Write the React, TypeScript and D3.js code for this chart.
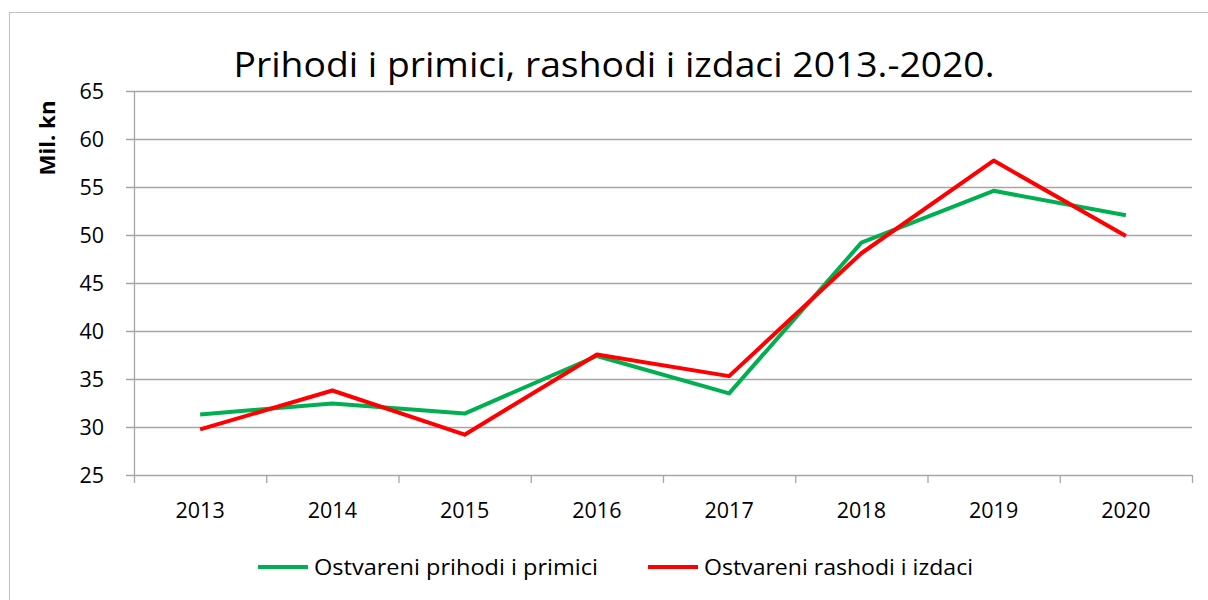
import React from "react";
import * as d3 from "d3";

const years = ["2013", "2014", "2015", "2016", "2017", "2018", "2019", "2020"];
const prihodi = [31.3, 32.45, 31.4, 37.4, 33.5, 49.2, 54.6, 52.05];
const rashodi = [29.75, 33.8, 29.2, 37.55, 35.3, 48.1, 57.75, 49.9];
const yTicks = [25, 30, 35, 40, 45, 50, 55, 60, 65];
const seriesNames = ["Ostvareni prihodi i primici", "Ostvareni rashodi i izdaci"];
const seriesColors = ["#00b050", "#ff0000"];
const title = "Prihodi i primici, rashodi i izdaci 2013.-2020.";
const yLabel = "Mil. kn";

const W = 1208, H = 600;
const left = 134, right = 1192, top = 91, bottom = 475;
const font = "'Open Sans', 'Noto Sans', sans-serif";

export default function App() {
  const x = d3.scaleBand().domain(years).range([left, right]).padding(0);
  const y = d3.scaleLinear().domain([25, 65]).range([bottom, top]);
  const line = d3
    .line<number>()
    .x((_, i) => (x(years[i]) as number) + x.bandwidth() / 2)
    .y((d) => y(d));
  const series = [prihodi, rashodi];
  const boundaries = years.map((yr) => x(yr) as number).concat([right]);
  const grid = "#a6a6a6";
  return (
    <svg width={W} height={H} style={{ position: "absolute", left: 0, top: 0, background: "#fff" }}>
      <rect x={9.5} y={12.5} width={1220} height={620} fill="#fff" stroke="#bfbfbf" strokeWidth={1} />
      <text x={614} y={77} textAnchor="middle" fontFamily={font} fontSize={34} textLength={761} lengthAdjust="spacingAndGlyphs" fill="#000">
        {title}
      </text>
      {yTicks.map((t) => (
        <g key={t}>
          <line x1={126} x2={right} y1={Math.round(y(t)) + 0.5} y2={Math.round(y(t)) + 0.5} stroke={grid} strokeWidth={1.3} />
          <text x={104} y={y(t) + 7.5} textAnchor="end" fontFamily={font} fontSize={21.5} fill="#000">
            {t}
          </text>
        </g>
      ))}
      <line x1={left + 0.5} x2={left + 0.5} y1={top} y2={bottom} stroke={grid} strokeWidth={1.3} />
      {boundaries.map((b, i) => (
        <line key={i} x1={b + 0.5} x2={b + 0.5} y1={bottom} y2={bottom + 8} stroke={grid} strokeWidth={1.3} />
      ))}
      {years.map((yr) => (
        <text key={yr} x={(x(yr) as number) + x.bandwidth() / 2} y={518} textAnchor="middle" fontFamily={font} fontSize={21.5} fill="#000">
          {yr}
        </text>
      ))}
      <text transform="translate(55,138) rotate(-90)" textAnchor="middle" fontFamily={font} fontWeight="bold" fontSize={21} textLength={75} lengthAdjust="spacingAndGlyphs" fill="#000">
        {yLabel}
      </text>
      {series.map((s, i) => (
        <path key={i} d={line(s) || ""} fill="none" stroke={seriesColors[i]} strokeWidth={4} strokeLinejoin="round" />
      ))}
      {seriesNames.map((n, i) => {
        const lx = i === 0 ? 258 : 648;
        const tl = i === 0 ? 284 : 269;
        return (
          <g key={n}>
            <line x1={lx} x2={lx + 50} y1={567} y2={567} stroke={seriesColors[i]} strokeWidth={4} />
            <text x={lx + 56} y={575} fontFamily={font} fontSize={22} textLength={tl} lengthAdjust="spacingAndGlyphs" fill="#000">
              {n}
            </text>
          </g>
        );
      })}
    </svg>
  );
}
